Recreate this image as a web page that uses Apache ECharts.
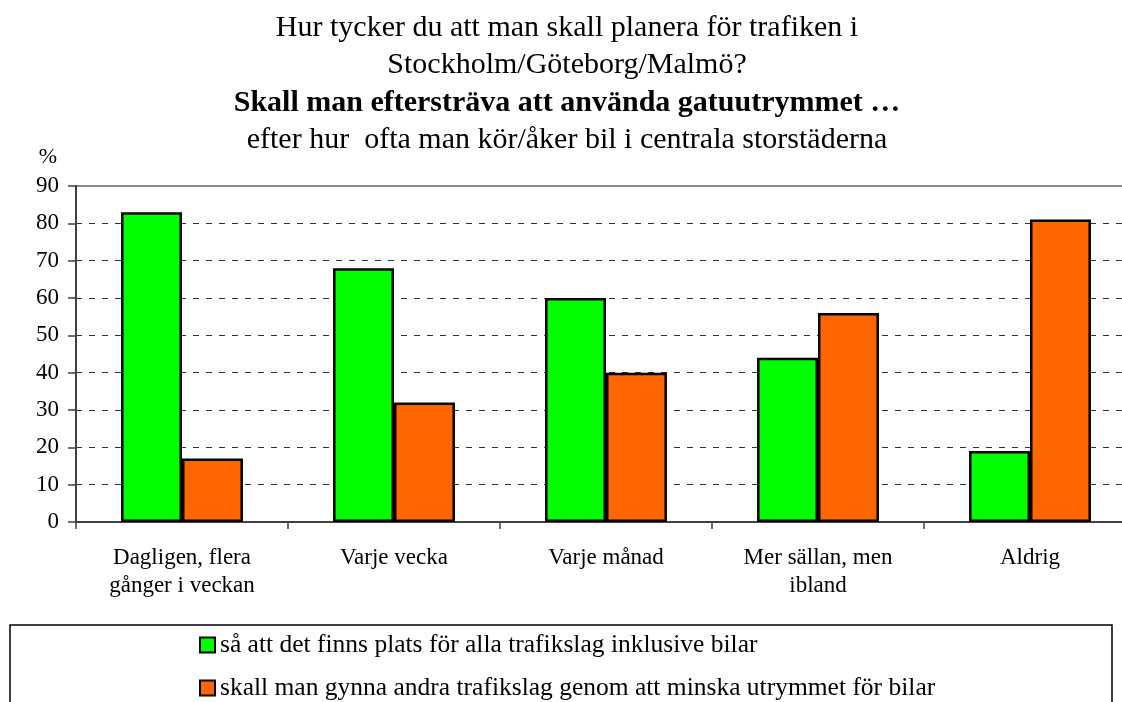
<!DOCTYPE html>
<html>
<head>
<meta charset="utf-8">
<script src="https://cdn.jsdelivr.net/npm/echarts@6/dist/echarts.min.js"></script>
<style>
    html, body { margin: 0; padding: 0; background: #fff; overflow: hidden; }
    /* plot area runs past the right edge of the picture, as in the original */
    #chart { width: 1140px; height: 702px; }
</style>
</head>
<body>
<div id="chart"></div>
<script>
/* data */
var categories = ['Dagligen, flera\ngånger i veckan', 'Varje vecka', 'Varje månad', 'Mer sällan, men\nibland', 'Aldrig'];
var seriesNames = [
    'så att det finns plats för alla trafikslag inklusive bilar',
    'skall man gynna andra trafikslag genom att minska utrymmet för bilar'
];
var inklusiveBilar = [83, 68, 60, 44, 19];
var minskaBilar = [17, 32, 40, 56, 81];
var titleLines = [
    'Hur tycker du att man skall planera för trafiken i',
    'Stockholm/Göteborg/Malmö?',
    'Skall man eftersträva att använda gatuutrymmet …',
    'efter hur  ofta man kör/åker bil i centrala storstäderna'
];

var serif = "'Liberation Serif', 'Times New Roman', serif";

var chart = echarts.init(document.getElementById('chart'));

chart.setOption({
    backgroundColor: '#fff',
    animation: false,
    title: {
        left: 562,
        top: 4,
        textAlign: 'center',
        text: '{n|' + titleLines[0] + '}\n{n|' + titleLines[1] + '}\n{b|' + titleLines[2] + '}\n{n|' + titleLines[3] + '}',
        textStyle: {
            fontWeight: 'normal',
            rich: {
                n: { fontFamily: serif, fontSize: 30, lineHeight: 37.5, color: '#000', fontWeight: 'normal' },
                b: { fontFamily: serif, fontSize: 30, lineHeight: 37.5, color: '#000', fontWeight: 'bold' }
            }
        }
    },
    legend: {
        orient: 'vertical',
        left: 199,
        top: 632,
        padding: 0,
        itemWidth: 15,
        itemHeight: 15,
        itemGap: 17,
        icon: 'rect',
        textStyle: { fontFamily: serif, fontSize: 25.5, lineHeight: 26, color: '#000' },
        data: seriesNames
    },
    graphic: [{
        type: 'rect',
        shape: { x: 10, y: 625, width: 1102, height: 120 },
        style: { fill: 'none', stroke: '#000', lineWidth: 1.5 },
        silent: true
    }],
    grid: {
        left: 76,
        top: 186,
        width: 1060,
        height: 336,
        show: true,
        borderColor: '#888',
        borderWidth: 2
    },
    xAxis: {
        type: 'category',
        data: categories,
        axisLine: { lineStyle: { color: '#404040', width: 2 } },
        axisTick: { show: true, length: 7, lineStyle: { color: '#404040', width: 1.5 } },
        axisLabel: {
            margin: 22,
            interval: 0,
            fontFamily: serif,
            fontSize: 23,
            lineHeight: 28,
            color: '#000'
        }
    },
    yAxis: {
        type: 'value',
        min: 0,
        max: 90,
        interval: 10,
        name: '%',
        nameLocation: 'end',
        nameGap: 29,
        nameTextStyle: {
            fontFamily: serif,
            fontSize: 22,
            color: '#000',
            align: 'right',
            verticalAlign: 'middle',
            padding: [0, 19, 0, 0]
        },
        axisLine: { show: true, lineStyle: { color: '#404040', width: 2 } },
        axisTick: { show: true, length: 8, lineStyle: { color: '#404040', width: 1.5 } },
        axisLabel: { margin: 17, fontFamily: serif, fontSize: 23, color: '#000' },
        splitLine: {
            show: true,
            showMinLine: false,
            showMaxLine: false,
            lineStyle: { color: '#333', width: 1.2, type: [6, 7] }
        }
    },
    series: [{
        name: seriesNames[0],
        type: 'bar',
        data: inklusiveBilar,
        barGap: 0,
        barCategoryGap: '42.5%',
        itemStyle: { color: '#00FF00', borderColor: '#000', borderWidth: 2.5 }
    }, {
        name: seriesNames[1],
        type: 'bar',
        data: minskaBilar,
        barGap: 0,
        barCategoryGap: '42.5%',
        itemStyle: { color: '#FF6600', borderColor: '#000', borderWidth: 2.5 }
    }]
});
</script>
</body>
</html>
